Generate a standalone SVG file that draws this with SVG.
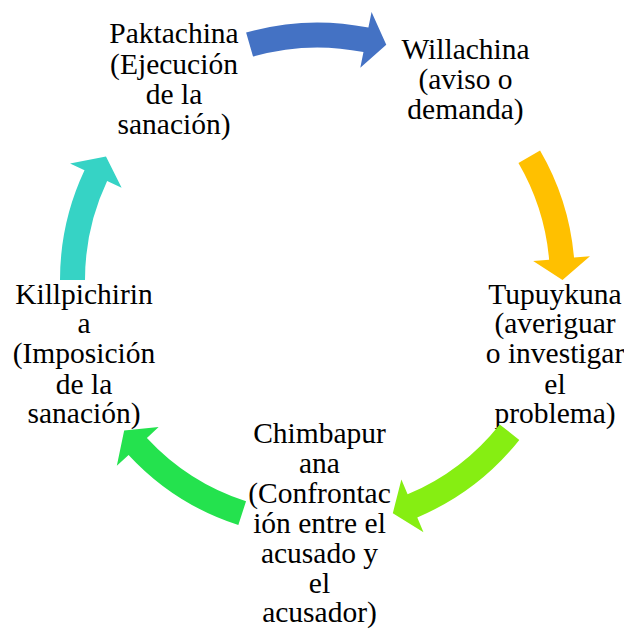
<svg xmlns="http://www.w3.org/2000/svg" width="624" height="630" viewBox="0 0 624 630">
<style>
text{font-family:"Liberation Serif","Times New Roman",serif;font-size:29.5px;fill:#000;text-anchor:middle}
</style>
<rect width="624" height="630" fill="#fff"/>
<g id="node-paktachina">
<text x="174" y="43">Paktachina</text>
<text x="174" y="74">(Ejecución</text>
<text x="174" y="104">de la</text>
<text x="174" y="134">sanación)</text>
</g>
<g id="node-willachina">
<text x="465.5" y="59">Willachina</text>
<text x="465.5" y="89">(aviso o</text>
<text x="465.5" y="119">demanda)</text>
</g>
<g id="node-tupuykuna">
<text x="555" y="304">Tupuykuna</text>
<text x="555" y="333">(averiguar</text>
<text x="555" y="363">o investigar</text>
<text x="555" y="394">el</text>
<text x="555" y="423">problema)</text>
</g>
<g id="node-chimbapurana">
<text x="319.5" y="443">Chimbapur</text>
<text x="319.5" y="473">ana</text>
<text x="319.5" y="503">(Confrontac</text>
<text x="319.5" y="533">ión entre el</text>
<text x="319.5" y="563">acusado y</text>
<text x="319.5" y="593">el</text>
<text x="319.5" y="622">acusador)</text>
</g>
<g id="node-killpichirina">
<text x="84" y="304">Killpichirin</text>
<text x="84" y="333">a</text>
<text x="84" y="363">(Imposición</text>
<text x="84" y="394">de la</text>
<text x="84" y="423">sanación)</text>
</g>
<g id="connectors">
<path fill="#4472C4" d="M246.10,32.59 A257.5,257.5 0 0 1 368.41,27.57 L371.57,11.89 L386.27,44.85 L360.30,67.77 L363.47,52.08 A232.5,232.5 0 0 0 253.03,56.61 Z"/>
<path fill="#FFC000" d="M540.06,150.48 A257.5,257.5 0 0 1 574.02,257.55 L589.96,256.15 L562.5,280 L533.18,261.12 L549.12,259.73 A232.5,232.5 0 0 0 518.45,163.05 Z"/>
<path fill="#86EE12" d="M519.30,439.93 A257.5,257.5 0 0 1 417.28,517.39 L423.48,532.14 L392.81,513.14 L401.39,479.59 L407.59,494.34 A232.5,232.5 0 0 0 499.71,424.41 Z"/>
<path fill="#24E24E" d="M238.34,525.04 A257.5,257.5 0 0 1 128.57,454.95 L116.83,465.82 L124.17,430.50 L158.65,427.09 L146.91,437.96 A232.5,232.5 0 0 0 246.03,501.25 Z"/>
<path fill="#36D3C5" d="M60,280 A257.5,257.5 0 0 1 84.51,170.36 L70.04,163.54 L105.97,156.40 L121.61,187.81 L107.13,181.00 A232.5,232.5 0 0 0 85,280 Z"/>
</g>
</svg>
